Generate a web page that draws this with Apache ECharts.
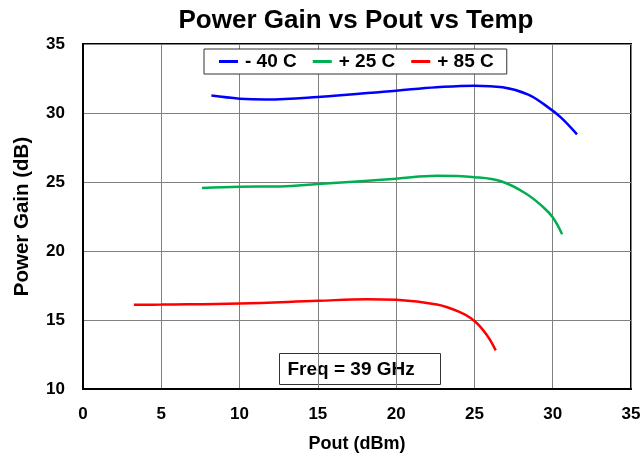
<!DOCTYPE html>
<html><head><meta charset="utf-8">
<script src="https://cdn.jsdelivr.net/npm/echarts@6/dist/echarts.min.js"></script>
<style>html,body{margin:0;padding:0;background:#fff}#c{width:644px;height:461px}</style>
</head><body><div id="c"></div>
<script>
const seriesNames = ['- 40 C', '+ 25 C', '+ 85 C'];
const seriesColors = ['#0000FF', '#00B050', '#FF0000'];
const xTicks = [0, 5, 10, 15, 20, 25, 30, 35];
const yTicks = [10, 15, 20, 25, 30, 35];
const minus40 = [[8.2,31.26],[10,31.04],[11.7,30.98],[15,31.16],[20,31.62],[22.6,31.86],[25,31.98],[26.8,31.86],[28.4,31.35],[29.6,30.5],[30.5,29.7],[31.55,28.45]];
const plus25 = [[7.6,24.56],[10,24.66],[12.6,24.68],[15,24.85],[20,25.24],[22.6,25.45],[25,25.35],[26.7,25.05],[28.3,24.15],[29.4,23.17],[30,22.44],[30.6,21.22]];
const plus85 = [[3.25,16.1],[5,16.12],[10,16.2],[15,16.39],[18.1,16.5],[20,16.46],[22.6,16.12],[24,15.6],[25,14.93],[25.8,13.9],[26.36,12.8]];
const freqLabel = 'Freq = 39 GHz';
const dataSets = [minus40, plus25, plus85];

const font = 'Liberation Sans, Arial, sans-serif';
const chart = echarts.init(document.getElementById('c'), null, {renderer:'canvas'});
chart.setOption({
  animation:false,
  title:{text:'Power Gain vs Pout vs Temp', left:351, textAlign:'center', top:3,
    textStyle:{fontFamily:font, fontWeight:'bold', fontSize:26, color:'#000'}},
  grid:{left:83, right:13, top:44, bottom:72, show:true, borderColor:'#000', borderWidth:2},
  legend:{data:seriesNames, left:204, top:49, itemGap:16, itemWidth:19, itemHeight:3,
    icon:'rect', borderColor:'#333', borderWidth:1, backgroundColor:'#fff', padding:[3,13,3,15],
    textStyle:{fontFamily:font, fontWeight:'bold', fontSize:19, color:'#000', padding:[0,0,0,2]}},
  xAxis:{type:'value', min:0, max:35, interval:5, name:'Pout (dBm)', nameLocation:'middle', nameGap:46,
    nameTextStyle:{fontFamily:font, fontWeight:'bold', fontSize:18, color:'#000'},
    axisLine:{show:true, lineStyle:{color:'#000', width:2}}, axisTick:{show:false},
    axisLabel:{fontFamily:font, fontWeight:'bold', fontSize:17, color:'#000', margin:17,
      formatter:v=>xTicks.includes(v)?String(v):''},
    splitLine:{show:true, lineStyle:{color:'#808080', width:1}}},
  yAxis:{type:'value', min:10, max:35, interval:5, name:'Power Gain (dB)', nameLocation:'middle', nameGap:50,
    nameTextStyle:{fontFamily:font, fontWeight:'bold', fontSize:20.5, color:'#000'},
    axisLine:{show:true, lineStyle:{color:'#000', width:2}}, axisTick:{show:false},
    axisLabel:{fontFamily:font, fontWeight:'bold', fontSize:17, color:'#000', margin:18,
      formatter:v=>yTicks.includes(v)?String(v):''},
    splitLine:{show:true, lineStyle:{color:'#808080', width:1}}},
  series: dataSets.map((d,i)=>({name:seriesNames[i], type:'line', data:d, smooth:0.4, showSymbol:false,
    symbol:'none', lineStyle:{color:seriesColors[i], width:2.5}, itemStyle:{color:seriesColors[i]}})),
  graphic:[{type:'group', left:279, top:353, children:[
    {type:'rect', shape:{x:0,y:0,width:161,height:31}, style:{fill:'#fff', stroke:'#333', lineWidth:1}},
    {type:'text', x:8, y:16, style:{text:freqLabel, fontFamily:font, fontWeight:'bold', fontSize:19, fill:'#000', textVerticalAlign:'middle'}}
  ]}]
});
</script></body></html>
